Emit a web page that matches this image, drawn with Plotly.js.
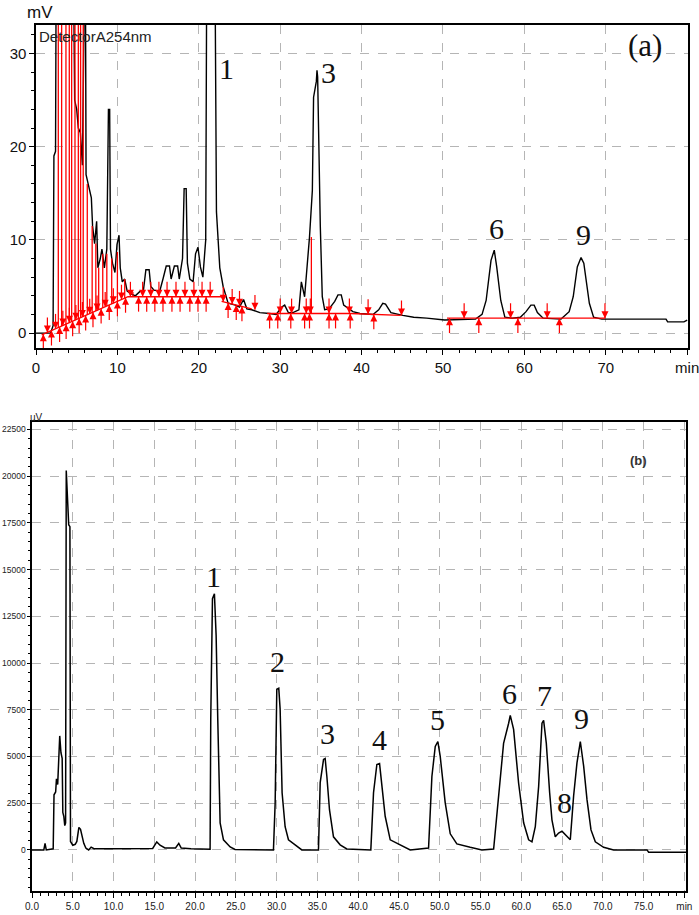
<!DOCTYPE html>
<html><head><meta charset="utf-8">
<script src="https://cdn.plot.ly/plotly-3.0.1.min.js"></script>
<style>html,body{margin:0;padding:0;background:#fff}#chart{width:699px;height:915px}</style>
</head><body><div id="chart"></div>
<script>
// ---------- Panel (a): HPLC trace, Detector A 254nm (min, mV) ----------
const tA = [
  0,1.8,2.1,2.2,2.4, 2.5,3.3,4.0,4.6,4.75, 5.0,5.2,5.45,5.7,5.85, 6.05,6.15,6.5,6.8,6.95,
  7.2,7.45,7.6,7.9,8.1, 8.4,8.7,8.9,9.05,9.15, 9.4,9.7,9.95,10.2,10.35, 10.6,10.9,11.2,11.7,12.2,
  12.8,13.2,13.5,13.9,14.1, 14.5,15.2,15.6,16.0,16.4, 16.6,17.0,17.4,17.6,18.0, 18.2,18.45,18.6,18.9,19.3,
  19.6,19.9,20.2,20.5,20.85, 21.0,21.95,22.17,22.58,22.99, 23.6,24.5,25.0,25.5,25.9, 26.5,27.5,28.7,
  29.5,30.2,30.55,31.0,31.57, 32.3,32.6,33.0,33.3,33.6, 33.95,34.1,34.44,34.52,34.6, 34.77,34.93,35.17,35.46,36.0,
  36.7,37.1,37.5,37.8,38.93, 39.8,41.4,42.1,42.6,42.94, 43.6,45.07,46.4,48.0,50.2,
  54.0,54.8,55.3,55.5,55.9, 56.3,56.6,57.1,57.6,58.5, 59.5,60.2,60.8,61.2,61.6, 62.3,64.5,65.5,66.0,66.5,
  66.96,67.3,67.98,68.5,69.5, 77.4,77.6,79.6,80
];
const vA = [
  0,0,0.8,19,19.5, 45,50,45,40,25, 24,22,21.5,18,45, 45,17,15.5,14.5,11.5,
  9.6,12,7,8,9, 7,9,24,24,9, 7.5,6.5,9.5,10.5,7, 5.5,5.8,4.5,4.2,4.0,
  4.5,4.6,6.8,6.8,5, 4.6,4.5,5.8,7.2,7.2, 5.8,7.2,7.2,5.8,8, 15.5,15.5,7.5,5.8,5.5,
  8.5,9.2,7.1,6.0,10, 45,45,13,7,5, 3.2,3.0,2.8,3.6,2.6, 2.5,2.2,2.1,
  2.0,2.8,3.0,2.2,2.2, 2.5,5.5,3.9,7.1,10.3, 15.3,25.3,27,28.2,27.5, 18.2,11.4,3.9,2.5,2.6,
  3.4,4.1,4.1,3.0,2.3, 2.1,2.0,2.5,3.2,3.1, 2.2,1.9,1.7,1.6,1.4,
  1.5,2.0,3.5,4.9,7.8, 8.9,7.1,3.5,1.7,1.6, 1.7,2.3,3.0,3.0,2.2, 1.6,1.5,2.3,3.9,7.1,
  8.1,7.5,3.2,1.7,1.5, 1.5,1.2,1.2,1.4
];
// integration baseline segments (null = gap)
const baseT = [0.7,11.3,22.8, null, 22.8,26.5, null, 28.4,38.6,44.8, null, 50.5,69.9];
const baseV = [-0.2,3.9,3.9, null, 3.4,2.6, null, 2.1,2.1,1.9, null, 1.6,1.6];
// drop lines (time, top value)
const dropT   = [2.74,3.15,3.68,4.09,4.38,4.79,5.2,5.48,5.8,6.3,6.9,7.35,7.7,8.2,8.7,9.3,10.0,10.9,11.9,33.83];
const dropTop = [40,40,40,40,40,40,40,40,40,16,11.5,9.6,7,8.5,8.5,8,8.7,5.8,4.4,10.3];
// peak start / end markers
const upT   = [0.9,1.9,2.9,3.7,4.5,5.3,6.1,7.0,8.0,9.0,10.0,11.0,12.6,13.6,14.6,15.6,16.7,17.7,18.9,19.9,20.9,23.6,24.6,25.3,28.7,29.7,31.3,33.0,33.6,36.0,36.8,38.6,41.5,50.8,54.4,59.2,64.3];
const downT = [1.4,2.4,3.3,4.1,4.9,5.7,6.6,7.5,8.5,9.5,10.5,11.6,13.1,14.1,15.1,16.1,17.2,18.3,19.4,20.4,21.4,23.0,24.1,25.0,26.9,30.0,31.4,33.2,33.7,36.0,38.5,40.8,44.9,52.6,58.3,62.8,69.9];
const peakLabelsA = ['1','3','6','9'];
const peakLabelTA = [23.4,35.95,56.6,67.2];
const peakLabelVA = [28.4,27.97,11.25,10.6];
const tickValsA = [0,10,20,30,40,50,60,70,80];
const tickTextA = ['0','10','20','30','40','50','60','70','min'];
const yTickValsA = [0,10,20,30];

// ---------- Panel (b): chromatogram (min, uV) ----------
const tB = [
  0,1.45,1.6,1.75,2.6,2.7,2.9,3.0,3.15,3.3,3.4,3.55,3.7,3.78,3.9,4.02,4.12,4.2,4.35,4.5,4.65,4.72,5.0,5.3,5.5,5.75,5.95,6.1,6.35,6.6,6.95,7.25,7.6,
  10.0,14.8,15.3,15.7,16.3,17.6,18.0,18.3,19.5,21.84,
  21.92,22.13,22.37,22.58,22.78,23.07,23.48,24.3,24.9,27.0,29.61,
  29.82,30.02,30.26,30.43,30.67,31.04,31.45,32.27,33.09,35.13,
  35.34,35.75,35.95,36.16,36.48,36.97,37.79,38.61,41.55,
  41.88,42.29,42.62,42.9,43.31,43.93,45.15,46.38,
  48.63,49.04,49.45,49.77,50.06,50.67,51.29,52.1,53.74,55.17,56.61,
  57.22,57.83,58.45,58.65,59.06,59.67,60.29,60.9,61.31,61.72,62.13,62.54,62.74,63.07,63.48,63.76,64.17,64.58,64.99,65.4,
  66.01,66.42,66.83,67.24,67.65,68.06,68.55,69.08,70.1,71.33,75.42,75.62,80.2
];
const vB = [
  0,0,350,0,60,2950,3100,3800,3500,5600,6100,5200,4900,2000,1800,1300,1450,20300,18600,17400,17300,450,250,300,450,1200,1100,750,350,100,0,150,60,
  60,80,430,250,100,100,350,100,60,40,
  6990,13440,13700,11470,6990,1450,540,160,20,0,0,
  2530,8600,8650,7530,3060,1240,540,270,0,0,
  3600,4840,4890,3930,2150,700,270,50,0,
  3060,4570,4620,3400,1800,540,270,0,
  100,3930,5540,5800,5000,2530,860,320,140,0,50,
  2900,5700,6780,7200,6450,3580,1450,540,430,1240,3400,6780,6930,5700,3060,1610,700,900,1000,800,
  540,2900,4660,5800,4480,2690,1070,430,140,0,0,-120,-120
];
const peakLabelsB = ['1','2','3','4','5','6','7','8','9'];
const peakLabelTB = [22.25,30.12,36.26,42.58,49.75,58.5,62.8,65.3,67.4];
const peakLabelVB = [14620,10080,6236,5914,6989,8387,8243,2554,7043];
const tickValsB = [0,5,10,15,20,25,30,35,40,45,50,55,60,65,70,75,80];
const tickTextB = ['0.0','5.0','10.0','15.0','20.0','25.0','30.0','35.0','40.0','45.0','50.0','55.0','60.0','65.0','70.0','75.0','min'];
const yTickValsB = [0,2500,5000,7500,10000,12500,15000,17500,20000,22500];

// ---------- helpers ----------
function interp(ts, vs, t) {
  const p = [];
  for (let i = 0; i < ts.length; i++) if (ts[i] !== null && vs[i] !== null) p.push([ts[i], vs[i]]);
  if (t <= p[0][0]) return p[0][1];
  if (t >= p[p.length-1][0]) return p[p.length-1][1];
  for (let i = 1; i < p.length; i++) {
    if (t <= p[i][0]) {
      const [t0,v0] = p[i-1], [t1,v1] = p[i];
      if (t1 === t0) return v1;
      return v0 + (v1-v0)*(t-t0)/(t1-t0);
    }
  }
  return p[p.length-1][1];
}
const W = 699, H = 915;
const ARROW_LEN = 1.6; // stem length in mV (~15 px)

const dropX = [], dropY = [];
dropT.forEach((t,i) => { dropX.push(t,t,null); dropY.push(interp(baseT,baseV,t), dropTop[i], null); });
const stemX = [], stemY = [];
upT.forEach(t => { const b = interp(baseT,baseV,t); stemX.push(t,t,null); stemY.push(b-ARROW_LEN, b, null); });
downT.forEach(t => { const b = interp(baseT,baseV,t); stemX.push(t,t,null); stemY.push(b+ARROW_LEN, b, null); });

const traces = [
  {x: tA, y: vA, xaxis:'x', yaxis:'y', mode:'lines', line:{color:'#000', width:1.4}, hoverinfo:'skip'},
  {x: baseT, y: baseV, xaxis:'x', yaxis:'y', mode:'lines', line:{color:'#ff0000', width:1.3}, connectgaps:false, hoverinfo:'skip'},
  {x: dropX, y: dropY, xaxis:'x', yaxis:'y', mode:'lines', line:{color:'#ff0000', width:1.3}, connectgaps:false, hoverinfo:'skip'},
  {x: stemX, y: stemY, xaxis:'x', yaxis:'y', mode:'lines', line:{color:'#ff0000', width:1.2}, connectgaps:false, hoverinfo:'skip', cliponaxis:false},
  {x: upT, y: upT.map(t => interp(baseT,baseV,t)), xaxis:'x', yaxis:'y', mode:'markers',
   marker:{symbol:'arrow-up', size:7, color:'#ff0000', line:{width:0}}, hoverinfo:'skip', cliponaxis:false},
  {x: downT, y: downT.map(t => interp(baseT,baseV,t)), xaxis:'x', yaxis:'y', mode:'markers',
   marker:{symbol:'arrow-down', size:7, color:'#ff0000', line:{width:0}}, hoverinfo:'skip', cliponaxis:false},
  {x: tB, y: vB, xaxis:'x2', yaxis:'y2', mode:'lines', line:{color:'#000', width:1.5}, hoverinfo:'skip'}
];

const gridCommon = {showgrid:true, gridcolor:'#b5b5b5', gridwidth:1, griddash:'dash', zeroline:false,
  showline:true, linecolor:'#000', linewidth:1.6, mirror:true, ticks:'outside', tickcolor:'#000', tickmode:'array',
  ticklabeloverflow:'allow'};

const annotations = [];
peakLabelsA.forEach((s,i) => annotations.push({xref:'x', yref:'y', x:peakLabelTA[i], y:peakLabelVA[i], text:s, showarrow:false,
  font:{family:'Liberation Serif, serif', size:30, color:'#111'}}));
peakLabelsB.forEach((s,i) => annotations.push({xref:'x2', yref:'y2', x:peakLabelTB[i], y:peakLabelVB[i], text:s, showarrow:false,
  font:{family:'Liberation Serif, serif', size:30, color:'#111'}}));
annotations.push({xref:'x', yref:'y', x:74.85, y:30.87, text:'(a)', showarrow:false, font:{family:'Liberation Serif, serif', size:31, color:'#111'}});
annotations.push({xref:'x2', yref:'y2', x:74.4, y:20830, text:'<b>(b)</b>', showarrow:false, font:{family:'Liberation Sans, Arial', size:13, color:'#333'}});
annotations.push({xref:'paper', yref:'paper', x:40/W, y:1-12.5/H, text:'mV', showarrow:false, xanchor:'center', yanchor:'middle', font:{family:'Liberation Sans, Arial', size:17, color:'#111'}});
annotations.push({xref:'paper', yref:'paper', x:37/W, y:1-37/H, text:'DetectorA254nm', showarrow:false, xanchor:'left', yanchor:'middle', font:{family:'Liberation Sans, Arial', size:15, color:'#222'}});
annotations.push({xref:'paper', yref:'paper', x:36/W, y:1-417/H, text:'uV', showarrow:false, xanchor:'center', yanchor:'middle', font:{family:'Liberation Sans, Arial', size:10, color:'#222'}});

const layout = {
  width: W, height: H, margin:{l:0,r:0,t:0,b:0}, paper_bgcolor:'#fff', plot_bgcolor:'#fff',
  showlegend:false, hovermode:false, font:{family:'Liberation Sans, Arial', color:'#000'},
  xaxis: Object.assign({}, gridCommon, {domain:[36/W, 688/W], range:[0,80.1], anchor:'y',
    tickvals: tickValsA, ticktext: tickTextA, ticklen:5, tickfont:{size:15, color:'#111'},
    minor:{tickmode:'linear', tick0:0, dtick:2, ticks:'outside', ticklen:3, tickcolor:'#000', showgrid:false}}),
  yaxis: Object.assign({}, gridCommon, {domain:[1-348/H, 1-25/H], range:[-1.6,33.05], anchor:'x',
    tickvals: yTickValsA, ticktext: yTickValsA.map(String), ticklen:5, tickfont:{size:15, color:'#111'},
    minor:{tickmode:'linear', tick0:0, dtick:2, ticks:'outside', ticklen:3, tickcolor:'#000', showgrid:false}}),
  xaxis2: Object.assign({}, gridCommon, {domain:[32/W, 686/W], range:[0,80.2], anchor:'y2',
    tickvals: tickValsB, ticktext: tickTextB, ticklen:5, tickfont:{size:10, color:'#222'},
    minor:{tickmode:'linear', tick0:0, dtick:1, ticks:'outside', ticklen:3, tickcolor:'#000', showgrid:false}}),
  yaxis2: Object.assign({}, gridCommon, {domain:[1-891/H, 1-422/H], range:[-2200,22900], anchor:'x2',
    tickvals: yTickValsB, ticktext: yTickValsB.map(String), ticklen:3, tickfont:{size:8.5, color:'#222'},
    minor:{tickmode:'linear', tick0:0, dtick:500, ticks:'outside', ticklen:2, tickcolor:'#000', showgrid:false}}),
  annotations: annotations
};

Plotly.newPlot('chart', traces, layout, {staticPlot:true, displayModeBar:false});
</script>
</body></html>
